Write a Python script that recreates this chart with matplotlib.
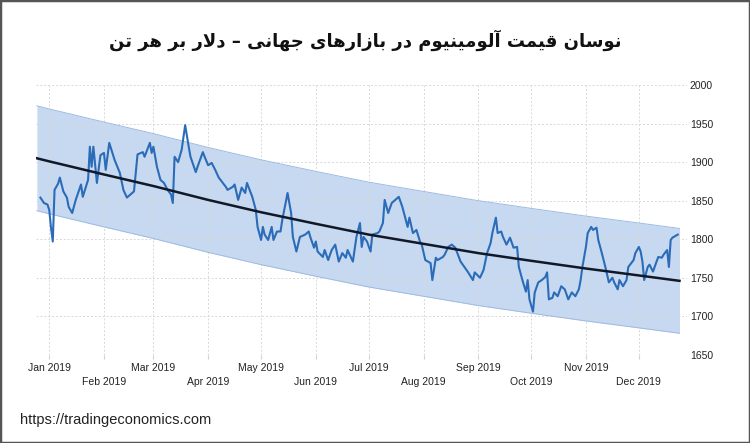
import matplotlib
matplotlib.use("Agg")
import matplotlib.pyplot as plt
from matplotlib.patches import Rectangle
import numpy as np
import pandas as pd

# aluminium price, USD per tonne, days counted from 2019-01-01
price_days = [
    -5, -3, -1, 0, 1, 2, 3, 5, 6, 8, 10, 11, 13, 15, 18, 19, 22, 23, 24, 25,
    27, 29, 31, 32, 34, 37, 40, 42, 44, 46, 48, 50, 53, 54, 57, 58, 59, 61, 63, 65,
    67, 69, 70, 71, 73, 75, 77, 79, 80, 83, 84, 87, 88, 90, 92, 94, 96, 98, 100, 101,
    104, 105, 107, 109, 111, 112, 115, 117, 118, 120, 121, 122, 124, 126, 127, 129, 131, 132, 134, 135,
    137, 138, 140, 142, 145, 147, 148, 150, 151, 152, 155, 156, 158, 160, 162, 164, 166, 168, 169, 172,
    174, 176, 177, 178, 180, 182, 183, 186, 187, 189, 190, 192, 194, 196, 198, 200, 202, 203, 204, 206,
    208, 210, 211, 213, 216, 217, 219, 220, 223, 224, 226, 228, 230, 233, 237, 240, 241, 244, 246, 248,
    250, 251, 253, 254, 256, 257, 259, 261, 263, 265, 266, 268, 270, 271, 272, 274, 275, 277, 279, 281,
    282, 283, 285, 286, 288, 290, 292, 294, 296, 298, 300, 301, 302, 304, 305, 307, 308, 310, 311, 313,
    315, 317, 319, 320, 322, 323, 325, 327, 328, 331, 332, 334, 335, 336, 337, 339, 340, 342, 344, 345,
    347, 348, 350, 351, 352, 353, 356,
]
price_values = [
    1854, 1847, 1845, 1838, 1815, 1797, 1864, 1872, 1880, 1862, 1854, 1842, 1834, 1851, 1871, 1855, 1877, 1920, 1894, 1920,
    1873, 1909, 1912, 1890, 1925, 1903, 1886, 1864, 1854, 1858, 1862, 1910, 1913, 1907, 1925, 1912, 1920, 1894, 1877, 1873,
    1864, 1858, 1847, 1907, 1900, 1916, 1948, 1920, 1907, 1887, 1894, 1913, 1907, 1896, 1899, 1890, 1880, 1874, 1868, 1864,
    1868, 1871, 1851, 1867, 1860, 1873, 1855, 1838, 1816, 1799, 1816, 1806, 1799, 1816, 1799, 1810, 1810, 1825, 1848, 1860,
    1834, 1803, 1784, 1803, 1806, 1810, 1802, 1789, 1797, 1784, 1777, 1786, 1773, 1786, 1793, 1771, 1782, 1776, 1786, 1771,
    1803, 1821, 1790, 1803, 1797, 1784, 1806, 1808, 1810, 1821, 1851, 1834, 1847, 1851, 1855, 1842, 1825, 1816, 1828, 1808,
    1812, 1797, 1793, 1773, 1769, 1747, 1776, 1773, 1777, 1780, 1790, 1793, 1789, 1771, 1758, 1747, 1757, 1750, 1760, 1782,
    1795, 1808, 1828, 1808, 1810, 1803, 1793, 1802, 1789, 1790, 1764, 1747, 1732, 1747, 1722, 1706, 1731, 1744, 1747, 1751,
    1757, 1722, 1724, 1731, 1726, 1739, 1735, 1722, 1731, 1726, 1735, 1747, 1764, 1790, 1808, 1816, 1812, 1815, 1799, 1782,
    1764, 1744, 1750, 1744, 1735, 1747, 1739, 1747, 1764, 1773, 1782, 1790, 1784, 1771, 1747, 1764, 1767, 1758, 1771, 1777,
    1776, 1780, 1786, 1764, 1799, 1802, 1806,
]

# trend curve and channel
trend_dates = ['2018-12-25', '2019-01-01', '2019-02-01', '2019-03-01', '2019-04-01', '2019-05-01', '2019-06-01',
               '2019-07-01', '2019-08-01', '2019-09-01', '2019-10-01', '2019-11-01', '2019-12-01', '2019-12-24']
trend_values = [1905, 1901, 1884, 1869, 1851, 1835, 1820, 1806, 1794, 1782, 1772, 1762, 1753, 1746]
channel_half = 68

y_ticks = [1650, 1700, 1750, 1800, 1850, 1900, 1950, 2000]

title_fa = 'نوسان قیمت آلومینیوم در بازارهای جهانی – دلار بر هر تن'
source = 'https://tradingeconomics.com'


# minimal Persian shaping (matplotlib does no joining / bidi)
FORMS = {
    'ا': ('\uFE8D', '\uFE8E', None, None),
    'آ': ('\uFE81', '\uFE82', None, None),
    'ب': ('\uFE8F', '\uFE90', '\uFE91', '\uFE92'),
    'ت': ('\uFE95', '\uFE96', '\uFE97', '\uFE98'),
    'ج': ('\uFE9D', '\uFE9E', '\uFE9F', '\uFEA0'),
    'د': ('\uFEA9', '\uFEAA', None, None),
    'ر': ('\uFEAD', '\uFEAE', None, None),
    'ز': ('\uFEAF', '\uFEB0', None, None),
    'س': ('\uFEB1', '\uFEB2', '\uFEB3', '\uFEB4'),
    'ق': ('\uFED5', '\uFED6', '\uFED7', '\uFED8'),
    'ل': ('\uFEDD', '\uFEDE', '\uFEDF', '\uFEE0'),
    'م': ('\uFEE1', '\uFEE2', '\uFEE3', '\uFEE4'),
    'ن': ('\uFEE5', '\uFEE6', '\uFEE7', '\uFEE8'),
    'ه': ('\uFEE9', '\uFEEA', '\uFEEB', '\uFEEC'),
    'و': ('\uFEED', '\uFEEE', None, None),
    'ی': ('\uFEEF', '\uFEF0', '\uFEF3', '\uFEF4'),
}
LAM_ALEF = {'ا': ('\uFEFB', '\uFEFC'), 'آ': ('\uFEF5', '\uFEF6')}


def shape(text):
    out = []
    i = 0
    n = len(text)
    while i < n:
        c = text[i]
        if c not in FORMS:
            out.append(c)
            i += 1
            continue
        prev = text[i - 1] if i > 0 else ''
        join_prev = prev in FORMS and FORMS[prev][2] is not None
        if c == 'ل' and i + 1 < n and text[i + 1] in LAM_ALEF:
            iso, fin = LAM_ALEF[text[i + 1]]
            out.append(fin if join_prev else iso)
            i += 2
            continue
        nxt = text[i + 1] if i + 1 < n else ''
        join_next = FORMS[c][2] is not None and nxt in FORMS
        iso, fin, ini, med = FORMS[c]
        if join_prev and join_next:
            out.append(med)
        elif join_prev:
            out.append(fin)
        elif join_next:
            out.append(ini)
        else:
            out.append(iso)
        i += 1
    return ''.join(out)[::-1]


base = pd.Timestamp('2019-01-01')
dates = [base + pd.Timedelta(days=d) for d in price_days]
t_dates = pd.to_datetime(trend_dates)
t_vals = np.array(trend_values)

fig = plt.figure(figsize=(7.5, 4.43), dpi=100)
ax = fig.add_axes([0.048, 0.199, 0.868, 0.609])

ax.fill_between(t_dates, t_vals - channel_half, t_vals + channel_half,
                color='#c6d9f1', linewidth=0, zorder=1)
ax.plot(t_dates, t_vals + channel_half, color='#9dbae2', lw=0.7, zorder=2)
ax.plot(t_dates, t_vals - channel_half, color='#9dbae2', lw=0.7, zorder=2)
ax.plot(dates, price_values, color='#2b6cb9', lw=1.5, zorder=3)
ax.plot(t_dates, t_vals, color='#111827', lw=1.8, zorder=4)

ax.set_xlim(pd.Timestamp('2018-12-24 12:00'), pd.Timestamp('2019-12-28 06:00'))
ax.set_ylim(1650, 2000)

ax.yaxis.tick_right()
ax.set_yticks(y_ticks)
ax.tick_params(axis='y', length=0, pad=2, labelsize=7.5, labelcolor='#222222')

months = pd.date_range('2019-01-01', '2019-12-01', freq='MS')
ax.set_xticks(months)
labels = []
for k, m in enumerate(months):
    lab = m.strftime('%b %Y')
    labels.append(lab if k % 2 == 0 else '\n' + lab)
ax.set_xticklabels(labels, fontsize=7.5, color='#222222', linespacing=1.5)
ax.tick_params(axis='x', length=3, color='#d0d0d0', pad=3)

for tl in ax.get_xticklabels() + ax.get_yticklabels():
    tl.set_family('Liberation Sans')

ax.grid(True, color='#d8d8d8', linestyle=(0, (2, 2)), lw=0.7, zorder=0)
for s in ax.spines.values():
    s.set_visible(False)

fig.text(365 / 750, 1 - 40 / 443, shape(title_fa), ha='center', va='center',
         fontsize=13, fontweight='bold', family='DejaVu Sans', color='#111111')
fig.text(20 / 750, 1 - 420 / 443, source, ha='left', va='center',
         fontsize=10.5, family='Liberation Sans', color='#222222')

fig.patches.append(Rectangle((0, 0), 1, 1, transform=fig.transFigure, fill=False,
                             edgecolor='#555555', lw=2.5, zorder=10))

fig.savefig('out.png', dpi=100)
